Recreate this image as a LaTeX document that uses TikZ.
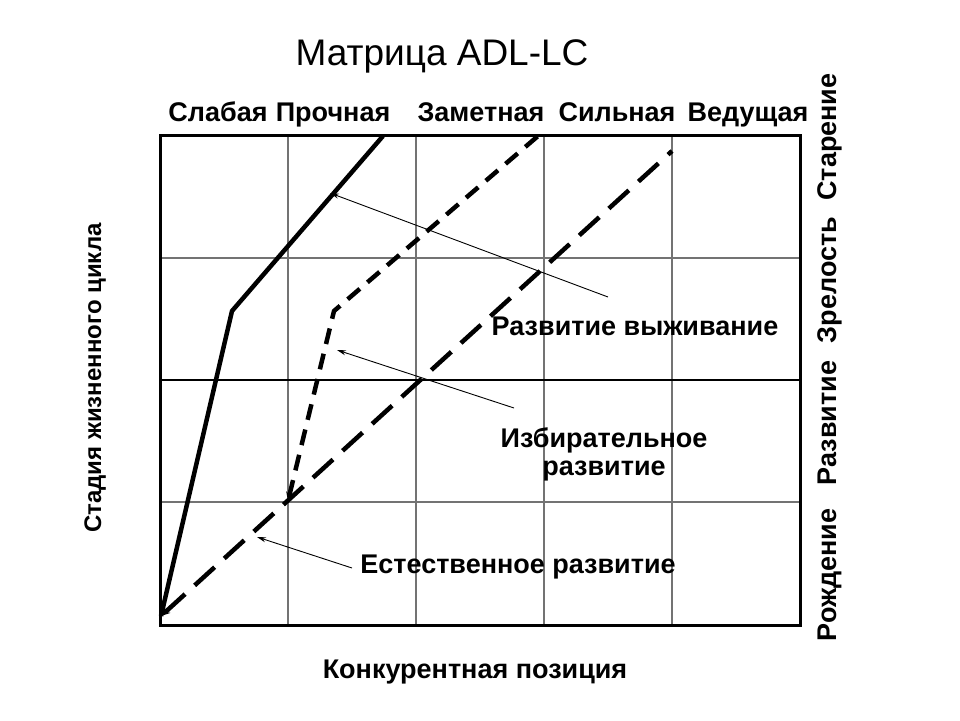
\documentclass[tikz,border=0pt]{standalone}
\usepackage{fontspec}
\setmainfont{Liberation Sans}
\usetikzlibrary{arrows.meta}
\begin{document}
\begin{tikzpicture}[x=1pt,y=-1pt,
  gridline/.style={draw=black!55, line width=1.8pt},
  frameline/.style={draw=black, line width=3pt},
  solidcurve/.style={draw=black, line width=4.5pt, line join=miter},
  medcurve/.style={draw=black, line width=4.5pt, dash pattern=on 16pt off 10pt, {Stealth[length=9pt,width=8pt]}-},
  longcurve/.style={draw=black, line width=4.5pt, dash pattern=on 27pt off 13pt, {Stealth[length=9pt,width=8pt]}-},
  pointer/.style={draw=black, line width=0.9pt, -{Stealth[length=9pt,width=5pt]}},
  collbl/.style={font=\fontsize{27}{32}\bfseries\selectfont, inner sep=0pt, anchor=base},
  sidelbl/.style={font=\fontsize{27}{32}\bfseries\selectfont, inner sep=0pt, rotate=90, anchor=base},
  note/.style={font=\fontsize{27}{31}\bfseries\selectfont, inner sep=0pt, anchor=base},
  titlelbl/.style={font=\fontsize{37}{42}\selectfont, inner sep=0pt, anchor=base}
]
\useasboundingbox (0,0) rectangle (960,720);
\fill[white] (0,0) rectangle (960,720);

% grid corners
\coordinate (tl) at (160,135);
\coordinate (br) at (800,625);

% grid lines
\foreach \x [count=\i] in {288,416,544,672} {
  \coordinate (vt\i) at (\x,135);
  \coordinate (vb\i) at (\x,625);
  \draw[gridline] (vt\i) -- (vb\i);
}
\foreach \y [count=\i] in {258,502} {
  \coordinate (hl\i) at (160,\y);
  \coordinate (hr\i) at (800,\y);
  \draw[gridline] (hl\i) -- (hr\i);
}
\coordinate (hlm) at (160,380);
\coordinate (hrm) at (800,380);
\draw[draw=black, line width=1.5pt] (hlm) -- (hrm);
\draw[frameline] (tl) rectangle (br);

% curves
\coordinate (o) at (161,616);
\coordinate (s1) at (232,311);
\coordinate (s2) at (383,136);
\draw[solidcurve] (o) -- (s1) -- (s2);

\coordinate (m0) at (288,501);
\coordinate (m1) at (334,311);
\coordinate (m2) at (538,136);
\draw[medcurve] (m0) -- (m1) -- (m2);

\coordinate (l0) at (161,616);
\coordinate (l1) at (672,151);
\draw[longcurve] (l0) -- (l1);

% texts
\node[titlelbl] (title) at (442,65) {Матрица ADL-LC};

\node[collbl] (c1) at (218,121) {Слабая};
\node[collbl] (c2) at (333,121) {Прочная};
\node[collbl] (c3) at (481,121) {Заметная};
\node[collbl] (c4) at (617,121) {Сильная};
\node[collbl] (c5) at (748,121) {Ведущая};

\node[sidelbl] (r1) at (836,575) {Рождение};
\node[sidelbl] (r2) at (836,423) {Развитие};
\node[sidelbl] (r3) at (836,280) {Зрелость};
\node[sidelbl] (r4) at (836,137) {Старение};

\node[font=\fontsize{24}{28}\bfseries\selectfont, inner sep=0pt, rotate=90, anchor=base] (ylab) at (101,378) {Стадия жизненного цикла};
\node[note] (xlab) at (475,678) {Конкурентная позиция};

\node[note] (n1) at (635,335) {Развитие выживание};
\node[note] (n2a) at (604,447) {Избирательное};
\node[note] (n2b) at (604,475) {развитие};
\node[note] (n3) at (518,573) {Естественное развитие};

% pointers
\coordinate (p1) at (608,297);
\coordinate (q1) at (330,193);
\draw[pointer] (p1) -- (q1);
\coordinate (p2) at (514,408);
\coordinate (q2) at (337,350);
\draw[pointer] (p2) -- (q2);
\coordinate (p3) at (352,568);
\coordinate (q3) at (257,537);
\draw[pointer] (p3) -- (q3);
\end{tikzpicture}
\end{document}
